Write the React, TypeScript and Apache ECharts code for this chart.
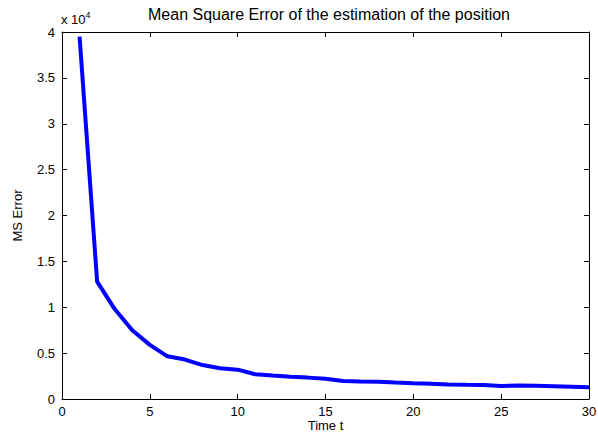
import React, { useEffect, useRef } from "react";
import * as echarts from "echarts";

const timeSteps = [1, 2, 3, 4, 5, 6, 7, 8, 9, 10, 11, 12, 13, 14, 15, 16, 17, 18, 19, 20, 21, 22, 23, 24, 25, 26, 27, 28, 29, 30];
const mseValues = [39500, 12800, 9800, 7500, 5900, 4650, 4300, 3700, 3350, 3200, 2700, 2550, 2420, 2330, 2200, 1960, 1900, 1890, 1800, 1720, 1650, 1580, 1540, 1520, 1430, 1460, 1440, 1400, 1340, 1270];
const yTickValues = [0, 5000, 10000, 15000, 20000, 25000, 30000, 35000, 40000];

const FONT = "Liberation Sans, Arial, Helvetica, sans-serif";

export default function App() {
  const ref = useRef<HTMLDivElement>(null);
  useEffect(() => {
    if (!ref.current) return;
    const chart = echarts.init(ref.current, null, { renderer: "svg" });
    const data = timeSteps.map((t, i) => [t, mseValues[i]]);
    const axisLine = { show: true, onZero: false, lineStyle: { color: "#000", width: 1 } };
    const tick = { show: true, inside: true, length: 5, lineStyle: { color: "#000" } };
    chart.setOption({
      animation: false,
      backgroundColor: "#fff",
      title: {
        text: "Mean Square Error of the estimation of the position",
        left: 324,
        top: 1,
        textAlign: "center",
        textStyle: { fontFamily: FONT, fontSize: 16, fontWeight: "normal", color: "#000" },
      },
      grid: { left: 62, right: 9, top: 32, bottom: 35, outerBoundsMode: "none", containLabel: false },
      xAxis: [
        {
          type: "value",
          min: 0,
          max: 30,
          interval: 5,
          position: "bottom",
          axisLine,
          axisTick: tick,
          splitLine: { show: false },
          axisLabel: { fontFamily: FONT, fontSize: 13, color: "#000", margin: 6 },
          name: "Time t",
          nameLocation: "middle",
          nameGap: 19,
          nameMoveOverlap: false,
          nameTextStyle: { fontFamily: FONT, fontSize: 13, color: "#000", lineHeight: 14 },
        },
        {
          type: "value",
          min: 0,
          max: 30,
          interval: 5,
          position: "top",
          axisLine,
          axisTick: tick,
          splitLine: { show: false },
          axisLabel: { show: false },
        },
      ],
      yAxis: [
        {
          type: "value",
          min: 0,
          max: 40000,
          interval: 5000,
          position: "left",
          axisLine,
          axisTick: tick,
          splitLine: { show: false },
          axisLabel: {
            fontFamily: FONT,
            fontSize: 13,
            color: "#000",
            margin: 7,
            formatter: (v: number) => (yTickValues.includes(v) ? String(v / 10000) : ""),
          },
          name: "MS Error",
          nameLocation: "middle",
          nameGap: 38,
          nameRotate: 90,
          nameMoveOverlap: false,
          nameTextStyle: { fontFamily: FONT, fontSize: 13, color: "#000" },
        },
        {
          type: "value",
          min: 0,
          max: 40000,
          interval: 5000,
          position: "right",
          axisLine,
          axisTick: tick,
          splitLine: { show: false },
          axisLabel: { show: false },
        },
      ],
      graphic: [
        {
          type: "text",
          left: 61,
          top: 10,
          style: {
            text: "{b|x 10}{s|4}",
            rich: {
              b: { fontFamily: FONT, fontSize: 13, fill: "#000", verticalAlign: "bottom" },
              s: { fontFamily: FONT, fontSize: 9, fill: "#000", verticalAlign: "top", padding: [0, 0, 7, 0] },
            },
          },
        },
      ],
      series: [
        {
          type: "line",
          data,
          symbol: "none",
          lineStyle: { color: "#0000ff", width: 4 },
          xAxisIndex: 0,
          yAxisIndex: 0,
        },
      ],
    });
    return () => chart.dispose();
  }, []);
  return <div ref={ref} style={{ position: "absolute", left: 0, top: 0, width: 598, height: 434 }} />;
}
